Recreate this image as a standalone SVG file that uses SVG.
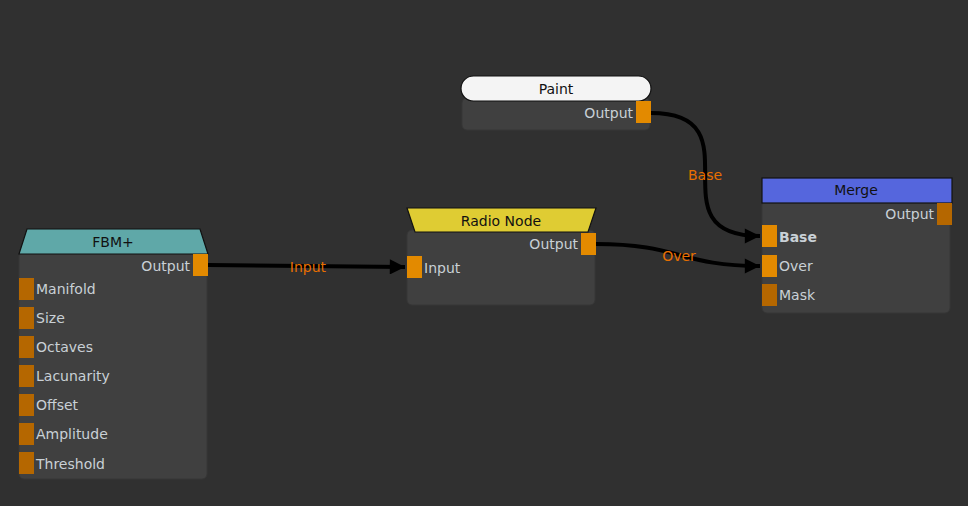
<svg xmlns="http://www.w3.org/2000/svg" width="968" height="506" viewBox="0 0 968 506">
<defs>
<style>
.body{fill:#404040;stroke:#363636;stroke-width:1}
.hdr{stroke:#111;stroke-width:1.2}
.t{font-family:"DejaVu Sans",sans-serif;font-size:14px;fill:#c9d0d6}
.h{font-family:"DejaVu Sans",sans-serif;font-size:14px;fill:#111;text-anchor:middle}
.pa{fill:#e38a00}
.pd{fill:#b56700}
.lbl{font-family:"DejaVu Sans",sans-serif;font-size:14px;fill:#e86f00;text-anchor:middle}
.edge{fill:none;stroke:#000;stroke-width:4}
</style>
<marker id="arr" viewBox="0 0 10 10" refX="10" refY="5" markerWidth="4.2" markerHeight="3.8" markerUnits="strokeWidth" orient="auto">
<path d="M0,0 L10,5 L0,10 Z" fill="#000"/>
</marker>
</defs>
<rect width="968" height="506" fill="#303030"/>
<g id="connectors">
<path class="edge" d="M208,265 L405,267" marker-end="url(#arr)"/>
<path class="edge" d="M596,244 C680,244 680,266 760,266" marker-end="url(#arr)"/>
<path class="edge" d="M651,113 C760,113 650,236 760,236" marker-end="url(#arr)"/>
<text class="lbl" x="308" y="272">Input</text>
<text class="lbl" x="679" y="261">Over</text>
<text class="lbl" x="705" y="180">Base</text>
</g>
<g id="paint">
<rect class="body" x="462" y="98" width="188" height="32" rx="5"/>
<rect x="461" y="76" width="190" height="25" rx="12.5" fill="#f4f4f4" stroke="#111" stroke-width="1.2"/>
<text class="h" x="556" y="94">Paint</text>
<text class="t" x="633" y="118" text-anchor="end">Output</text>
<rect class="pa" x="636" y="101" width="15" height="22"/>
</g>
<g id="merge">
<rect class="body" x="762" y="200" width="188" height="113" rx="5"/>
<rect class="hdr" x="762" y="178" width="190" height="25" fill="#5566dd"/>
<text class="h" x="856" y="195">Merge</text>
<text class="t" x="934" y="219" text-anchor="end">Output</text>
<rect class="pd" x="937" y="203" width="15" height="22"/>
<rect class="pa" x="762" y="225" width="15" height="22"/>
<text class="t" x="779" y="242" font-weight="bold">Base</text>
<rect class="pa" x="762" y="255" width="15" height="22"/>
<text class="t" x="779" y="271">Over</text>
<rect class="pd" x="762" y="284" width="15" height="22"/>
<text class="t" x="779" y="300">Mask</text>
</g>
<g id="radio">
<rect class="body" x="407" y="230" width="188" height="75" rx="5"/>
<path class="hdr" d="M407,208 L596,208 L588,232 L415,232 Z" fill="#dfcc33"/>
<text class="h" x="501" y="226">Radio Node</text>
<text class="t" x="578" y="249" text-anchor="end">Output</text>
<rect class="pa" x="581" y="233" width="15" height="22"/>
<rect class="pa" x="407" y="256" width="15" height="22"/>
<text class="t" x="424" y="273">Input</text>
</g>
<g id="fbm">
<rect class="body" x="19" y="251" width="188" height="228" rx="5"/>
<path class="hdr" d="M27,229 L200,229 L208,254 L19,254 Z" fill="#5fa8a8"/>
<text class="h" x="113" y="247">FBM+</text>
<text class="t" x="190" y="271" text-anchor="end">Output</text>
<rect class="pa" x="193" y="254" width="15" height="22"/>
<rect class="pd" x="19" y="278" width="15" height="22"/>
<text class="t" x="36" y="294">Manifold</text>
<rect class="pd" x="19" y="307" width="15" height="22"/>
<text class="t" x="36" y="323">Size</text>
<rect class="pd" x="19" y="336" width="15" height="22"/>
<text class="t" x="36" y="352">Octaves</text>
<rect class="pd" x="19" y="365" width="15" height="22"/>
<text class="t" x="36" y="381">Lacunarity</text>
<rect class="pd" x="19" y="394" width="15" height="22"/>
<text class="t" x="36" y="410">Offset</text>
<rect class="pd" x="19" y="423" width="15" height="22"/>
<text class="t" x="36" y="439">Amplitude</text>
<rect class="pd" x="19" y="452" width="15" height="22"/>
<text class="t" x="36" y="469">Threshold</text>
</g>
</svg>
